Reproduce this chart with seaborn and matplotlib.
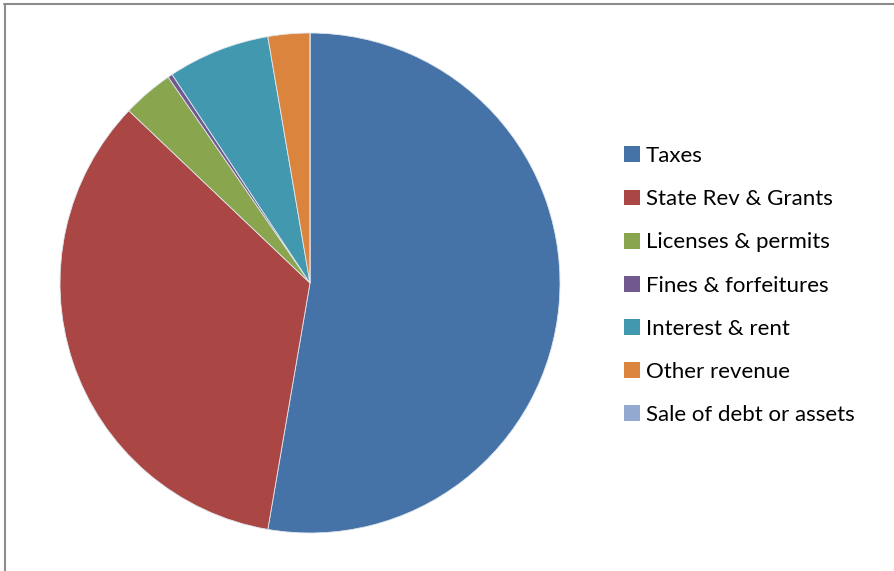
import matplotlib
matplotlib.use("Agg")
import matplotlib.pyplot as plt
from matplotlib.patches import Patch
from matplotlib.lines import Line2D
import seaborn as sns

# revenue share by source (percent)
sources = ["Taxes", "State Rev & Grants", "Licenses & permits", "Fines & forfeitures",
           "Interest & rent", "Other revenue", "Sale of debt or assets"]
shares = [52.7, 34.4, 3.3, 0.3, 6.6, 2.7, 0.0]
colors = ["#4572A7", "#AA4643", "#89A54E", "#71588F", "#4198AF", "#DB843D", "#93A9CF"]

sns.set_theme(style="white")
plt.rcParams["font.family"] = ["Lato", "DejaVu Sans"]
palette = sns.color_palette(colors)

W, H = 894, 571
fig = plt.figure(figsize=(W / 100, H / 100), dpi=100)
cx, cy, r = 310, 283, 250
ax = fig.add_axes([(cx - r) / W, (H - cy - r) / H, 2 * r / W, 2 * r / H])
ax.pie(shares, colors=palette, startangle=90, counterclock=False, radius=1,
       wedgeprops=dict(edgecolor="#dfe6ee", linewidth=0.6))
ax.set_xlim(-1, 1)
ax.set_ylim(-1, 1)
ax.set_aspect("equal")
ax.axis("off")

handles = [Patch(facecolor=c, edgecolor="none") for c in palette]
fig.legend(handles, sources, loc="center left", bbox_to_anchor=(613 / W, 1 - 285.5 / H),
           frameon=False, fontsize=16, labelcolor="black", handlelength=0.72,
           handleheight=0.72, handletextpad=0.25, labelspacing=1.04, borderpad=0)

# chart area border (top and left edges visible in the crop)
fig.add_artist(Line2D([4 / W, 1], [1 - 3.5 / H, 1 - 3.5 / H], color="#8c8c8c", lw=1.5))
fig.add_artist(Line2D([4.5 / W, 4.5 / W], [0, 1 - 3.5 / H], color="#8c8c8c", lw=1.5))

fig.savefig("out.png", dpi=100)
